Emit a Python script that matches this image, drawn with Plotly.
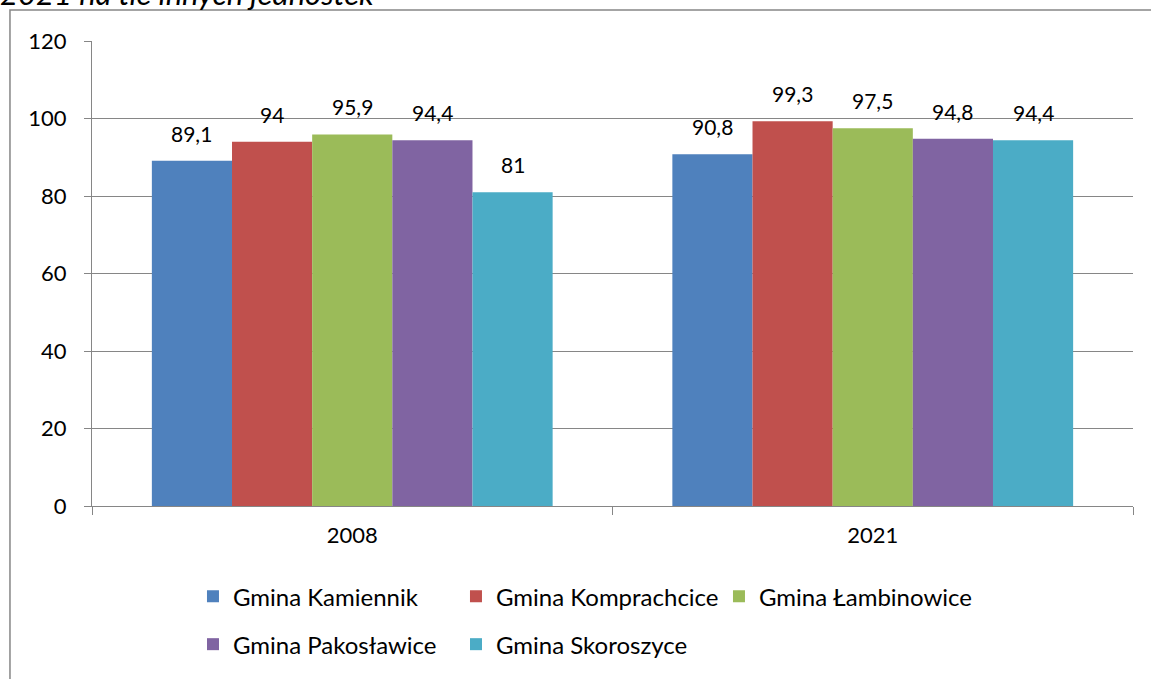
import plotly.graph_objects as go

years = ["2008", "2021"]
gminy = ["Gmina Kamiennik", "Gmina Komprachcice", "Gmina Łambinowice",
         "Gmina Pakosławice", "Gmina Skoroszyce"]
kamiennik = [89.1, 90.8]
komprachcice = [94, 99.3]
lambinowice = [95.9, 97.5]
pakoslawice = [94.4, 94.8]
skoroszyce = [81, 94.4]
colors = ["#4F81BD", "#C0504D", "#9BBB59", "#8064A2", "#4BACC6"]

series = [kamiennik, komprachcice, lambinowice, pakoslawice, skoroszyce]
bargap = 0.23
bar_w = (1 - bargap) / len(series)

fig = go.Figure()
for j, (name, vals, col) in enumerate(zip(gminy, series, colors)):
    fig.add_trace(go.Bar(
        x=years, y=vals, name=name, marker_color=col, marker_line_width=0,
        legend="legend" if j < 3 else "legend2",
    ))
    # value labels, sitting a fixed distance above each bar
    for i, v in enumerate(vals):
        fig.add_annotation(x=i + (j - 2) * bar_w, y=v, xref="x", yref="y",
                           text=str(v).replace(".", ","), showarrow=False,
                           yanchor="bottom", yshift=13,
                           font=dict(size=21, color="#000000"))

leg = dict(orientation="h", xanchor="left", yanchor="middle",
           entrywidth=218, font=dict(size=24, color="#000000"),
           bgcolor="rgba(0,0,0,0)")

fig.update_layout(
    width=1151, height=679,
    margin=dict(l=92, r=18, t=41, b=171),
    paper_bgcolor="white", plot_bgcolor="white",
    font=dict(family="Lato, Liberation Sans, sans-serif", size=22, color="#000000"),
    barmode="group", bargap=bargap, bargroupgap=0,
    showlegend=True,
    legend=dict(leg, x=0.097, y=-0.195),
    legend2=dict(leg, x=0.097, y=-0.298),
)

fig.update_yaxes(range=[0, 120], dtick=20, showgrid=True, gridcolor="#868686",
                 gridwidth=1, showline=True, linecolor="#868686", linewidth=1,
                 ticks="outside", ticklen=7, tickcolor="#868686", zeroline=False,
                 tickfont=dict(size=22), ticklabelstandoff=13)
fig.update_xaxes(showline=True, linecolor="#868686", linewidth=1,
                 ticks="outside", ticklen=8, tickcolor="#868686",
                 tickson="boundaries", tickfont=dict(size=22), ticklabelstandoff=10)

# outer chart border
fig.add_shape(type="rect", xref="paper", yref="paper",
              x0=-0.0788, x1=1.05, y0=-0.5, y1=1.0664,
              line=dict(color="#868686", width=1.5), fillcolor="rgba(0,0,0,0)",
              layer="below")

fig.add_annotation(text="<i>2021 na tle innych jednostek</i>", xref="paper", yref="paper",
                   x=-0.09, xanchor="left", y=1.058, yanchor="bottom",
                   showarrow=False, font=dict(size=31, color="#000000"))

fig.write_html("out.html", config={"displayModeBar": False},
               post_script="document.body.style.margin='0';")
